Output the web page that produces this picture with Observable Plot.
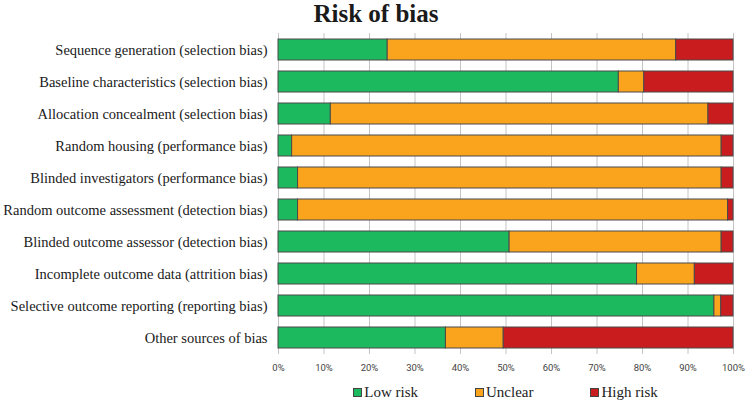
<!DOCTYPE html>
<html>
<head>
<meta charset="utf-8">
<script src="https://cdn.jsdelivr.net/npm/d3@7"></script>
<script src="https://cdn.jsdelivr.net/npm/@observablehq/plot@0.6"></script>
<style>
  body { margin: 0; background: #fff; width: 749px; height: 404px; overflow: hidden; }
  #title { font-family: "Liberation Serif", serif; font-weight: bold; font-size: 25px; line-height: 28px; height: 28px; text-align: center; color: #1a1a1a; padding-left: 3px; }
  #chart svg { display: block; }
  #legend { margin-left: 278px; width: 455px; display: flex; justify-content: center; gap: 57px; margin-top: 9px; line-height: 18px; color: #222; }
  #legend span.sw { display: inline-block; width: 7px; height: 7px; border: 1px solid #444; margin-right: 2px; vertical-align: 0px; }
</style>
</head>
<body>
<div id="title">Risk of bias</div>
<div id="chart"></div>
<div id="legend"></div>
<script>
const categories = [
  "Sequence generation (selection bias)",
  "Baseline characteristics (selection bias)",
  "Allocation concealment (selection bias)",
  "Random housing (performance bias)",
  "Blinded investigators (performance bias)",
  "Random outcome assessment (detection bias)",
  "Blinded outcome assessor (detection bias)",
  "Incomplete outcome data (attrition bias)",
  "Selective outcome reporting (reporting bias)",
  "Other sources of bias"
];
const seriesNames = ["Low risk", "Unclear", "High risk"];
const lowRisk  = [24.0, 74.8, 11.5, 3.0, 4.3, 4.3, 50.8, 78.8, 95.8, 36.8];
const unclear  = [63.4, 5.6, 83.0, 94.4, 93.1, 94.5, 46.6, 12.7, 1.5, 12.7];
const highRisk = [12.6, 19.6, 5.5, 2.6, 2.6, 1.2, 2.6, 8.5, 2.7, 50.5];
const seriesColors = ["#1db95f", "#faa41d", "#c81c1e"];
const xTicks = [0, 10, 20, 30, 40, 50, 60, 70, 80, 90, 100];

const valuesBySeries = [lowRisk, unclear, highRisk];
const table = [];
categories.forEach((c, i) => {
  seriesNames.forEach((s, j) => {
    table.push({category: c, series: s, value: valuesBySeries[j][i]});
  });
});

const chart = Plot.plot({
  width: 749,
  height: 346,
  marginLeft: 278,
  marginRight: 16,
  marginTop: 5,
  marginBottom: 20,
  x: {domain: [0, 100], ticks: xTicks, tickFormat: d => d + "%"},
  y: {domain: categories, paddingInner: 0.33, paddingOuter: 0.165, label: null},
  color: {domain: seriesNames, range: seriesColors},
  style: {background: "transparent"},
  marks: [
    Plot.gridX(xTicks, {stroke: "#c4c4c4", strokeOpacity: 1, strokeWidth: 1}),
    Plot.barX(table, Plot.stackX({
      x: "value", y: "category", fill: "series", order: null,
      stroke: "#4a4a4a", strokeWidth: 1
    })),
    Plot.axisX({ticks: xTicks, tickFormat: d => d + "%", tickSize: 0, tickPadding: 10, label: null,
      fontFamily: "Roboto", fontSize: 9.5, fill: "#444"}),
    Plot.axisY({tickSize: 0, tickPadding: 11, label: null,
      fontFamily: "Liberation Serif", fontSize: 14.5, fill: "#1a1a1a"})
  ]
});
document.getElementById("chart").appendChild(chart);

const legend = document.getElementById("legend");
seriesNames.forEach((s, j) => {
  const item = document.createElement("div");
  item.setAttribute("style", "font-family:'Liberation Serif';font-size:15px");
  const sw = document.createElement("span");
  sw.className = "sw";
  sw.style.background = seriesColors[j];
  item.appendChild(sw);
  item.appendChild(document.createTextNode(s));
  legend.appendChild(item);
});
</script>
</body>
</html>
